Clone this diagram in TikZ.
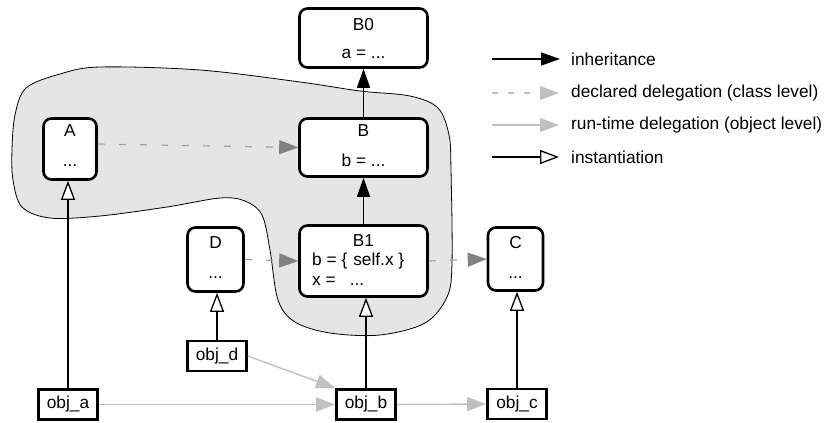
\documentclass[tikz,border=0pt]{standalone}
\usepackage{fontspec}
\setmainfont{Liberation Sans}
\usetikzlibrary{arrows.meta}
\definecolor{blobfill}{HTML}{E5E5E5}
\definecolor{declline}{HTML}{A0A0A0}
\definecolor{declhead}{HTML}{808080}
\definecolor{rtgray}{HTML}{C0C0C0}
\begin{document}
\begin{tikzpicture}[x=1pt,y=-1pt,
  font=\fontsize{17.3}{20}\selectfont,
  cls/.style={draw, line width=2.6pt, rounded corners=8pt, fill=white, inner sep=0pt},
  obj/.style={draw, line width=2.8pt, fill=white, inner sep=0pt, minimum width=59pt, minimum height=30pt},
  lbl/.style={inner sep=0pt, anchor=base},
  inh/.style={line width=1.3pt, -{Triangle[length=19pt,width=13pt]}},
  inst/.style={line width=1.3pt, -{Triangle[open,length=19pt,width=14pt,line width=1.3pt,fill=white]}},
  decl/.style={line width=1.2pt, draw=declline, dash pattern=on 7pt off 14pt, -{Triangle[length=19pt,width=14pt,color=declhead]}},
  decllg/.style={line width=1.2pt, draw=rtgray, dash pattern=on 6pt off 10pt, -{Triangle[length=19pt,width=14pt,color=rtgray]}},
  rt/.style={line width=1.4pt, draw=rtgray, -{Triangle[length=19pt,width=14pt,color=rtgray]}},
  lgtext/.style={inner sep=0pt, anchor=west}]
\useasboundingbox (0,0) rectangle (825,423);

% grey region
\draw[fill=blobfill, line width=0.8pt] plot[smooth cycle, tension=0.55] coordinates {
  (26,88) (60,74) (100,67) (200,70) (300,82) (360,91) (410,96) (438,108) (449,135)
  (451,170) (452,263) (447,297) (425,323) (380,335) (330,333) (295,322) (278,300)
  (270,250) (262,215) (245,201) (220,198) (167,207) (100,216) (50,218) (22,207)
  (13,180) (12,150) (15,115)};

% class boxes
\node[cls, minimum width=128pt, minimum height=59pt] (B0) at (363.5,38) {};
\node[cls, minimum width=128pt, minimum height=58pt] (B) at (363.5,147.5) {};
\node[cls, minimum width=128pt, minimum height=71pt] (B1) at (363.5,261) {};
\node[cls, minimum width=53pt, minimum height=61pt] (A) at (70,149) {};
\node[cls, minimum width=56pt, minimum height=64pt] (D) at (215.5,259.5) {};
\node[cls, minimum width=55pt, minimum height=63pt] (C) at (515.5,259) {};

\node[lbl] (B0t) at (363.5,30.7) {B0};
\node[lbl] (B0a) at (363.5,58) {a = ...};
\node[lbl] (Bt) at (363.5,136) {B};
\node[lbl] (Bb) at (363.5,166) {b = ...};
\node[lbl] (B1t) at (363.5,246) {B1};
\node[lbl, anchor=base west] (B1b) at (312,265) {b = \{\hspace{6pt}self.x \}};
\node[lbl, anchor=base west] (B1x) at (312,285) {x =\hspace{14pt}...};
\node[lbl] (At) at (70,136) {A};
\node[lbl] (Ad) at (70,166) {...};
\node[lbl] (Dt) at (215.5,248) {D};
\node[lbl] (Dd) at (215.5,278) {...};
\node[lbl] (Ct) at (515.5,248) {C};
\node[lbl] (Cd) at (515.5,278) {...};

% object boxes
\node[obj] (objd) at (217,356) {obj\_d};
\node[obj] (obja) at (68,404.5) {obj\_a};
\node[obj] (objb) at (366,404.5) {obj\_b};
\node[obj] (objc) at (517,404) {obj\_c};

% inheritance
\draw[inh] (B.north) -- (B0.south);
\draw[inh] (B1.north) -- (B.south);

% declared delegation
\draw[decl] ([yshift=5pt]A.east) -- (B.west);
\draw[decl] (D.east) -- (B1.west);
\draw[decl] (B1.east) -- (C.west);

% instantiation
\draw[inst] (obja.north) -- (obja.north |- A.south);
\draw[inst] (objd.north) -- (objd.north |- D.south);
\draw[inst] (objb.north) -- (objb.north |- B1.south);
\draw[inst] (objc.north) -- (objc.north |- C.south);

% run-time delegation
\draw[rt] (obja.east) -- (objb.west);
\draw[rt] (objd.east) -- (objb.north west);
\draw[rt] (objb.east) -- (objc.west);

% legend
\coordinate (l1a) at (492,59);  \coordinate (l1b) at (560,59);
\coordinate (l2a) at (492,93);  \coordinate (l2b) at (559,93);
\coordinate (l3a) at (492,125); \coordinate (l3b) at (559,125);
\coordinate (l4a) at (492,157); \coordinate (l4b) at (559,157);
\draw[inh] (l1a) -- (l1b);
\draw[decllg] (l2a) -- (l2b);
\draw[rt] (l3a) -- (l3b);
\draw[inst] (l4a) -- (l4b);
\node[lgtext] (t1) at (571,59) {inheritance};
\node[lgtext] (t2) at (571,93) {declared delegation (class level)};
\node[lgtext] (t3) at (571,125) {run-time delegation (object level)};
\node[lgtext] (t4) at (571,157) {instantiation};
\end{tikzpicture}
\end{document}
